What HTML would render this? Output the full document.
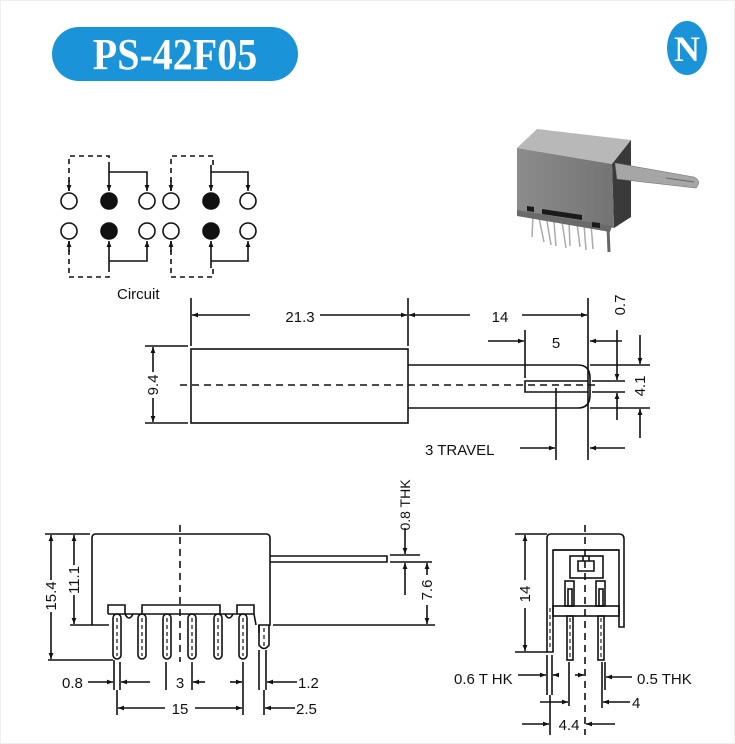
<!DOCTYPE html>
<html><head><meta charset="utf-8"><style>
body{margin:0;background:#fff}
svg{display:block}
text{font-family:"Liberation Sans",Arial,sans-serif;fill:#111}
</style></head><body>
<svg width="735" height="744" viewBox="0 0 735 744" xmlns="http://www.w3.org/2000/svg">
<defs>
<marker id="a" viewBox="0 0 10 10" refX="10" refY="5" markerWidth="8" markerHeight="6" orient="auto-start-reverse" markerUnits="userSpaceOnUse"><path d="M0,1 L10,5 L0,9z" fill="#111"/></marker>
<linearGradient id="g1" x1="0" x2="1"><stop offset="0" stop-color="#8c8c8c"/><stop offset="1" stop-color="#747474"/></linearGradient>
</defs>
<rect x="0.5" y="0.5" width="734" height="743" fill="#fff" stroke="#eee"/>
<!-- title -->
<rect x="52" y="27" width="246" height="54" rx="27" fill="#1a93d9"/>
<text transform="translate(175,69) scale(1,1.12)" text-anchor="middle" font-weight="bold" font-size="40" style="fill:#fff;font-family:'Liberation Serif',serif">PS-42F05</text>
<ellipse cx="687" cy="48" rx="20" ry="27" fill="#1a93d9"/>
<text x="687" y="61" text-anchor="middle" font-weight="bold" font-size="36" style="fill:#fff;font-family:'Liberation Serif',serif">N</text>

<g stroke="#111" stroke-width="1.6" fill="none">
<!-- circuit -->
<g fill="#fff">
<circle cx="69" cy="201" r="8"/><circle cx="147" cy="201" r="8"/><circle cx="171" cy="201" r="8"/><circle cx="248" cy="201" r="8"/>
<circle cx="69" cy="231" r="8"/><circle cx="147" cy="231" r="8"/><circle cx="171" cy="231" r="8"/><circle cx="248" cy="231" r="8"/>
</g>
<g fill="#111"><circle cx="109" cy="201" r="8"/><circle cx="109" cy="231" r="8"/><circle cx="211" cy="201" r="8"/><circle cx="211" cy="231" r="8"/></g>
<g stroke-dasharray="5,4">
<path d="M69,191 V156 H109 V165"/><path d="M69,241 V277 H109 V268"/>
<path d="M171,191 V156 H213 V165"/><path d="M171,241 V277 H213 V268"/>
</g>
<path d="M69,180 V191" marker-end="url(#a)"/><path d="M69,252 V241" marker-end="url(#a)"/>
<path d="M171,180 V191" marker-end="url(#a)"/><path d="M171,252 V241" marker-end="url(#a)"/>
<path d="M109,165 V191" marker-end="url(#a)"/><path d="M109,172 H147 V191" marker-end="url(#a)"/>
<path d="M109,268 V241" marker-end="url(#a)"/><path d="M109,261 H147 V241" marker-end="url(#a)"/>
<path d="M211,165 V191" marker-end="url(#a)"/><path d="M211,172 H248 V191" marker-end="url(#a)"/>
<path d="M211,268 V241" marker-end="url(#a)"/><path d="M211,261 H248 V241" marker-end="url(#a)"/>

<!-- side view -->
<rect x="191" y="349" width="217" height="74"/>
<path d="M408,365 H578 Q590,365 590,378 V395 Q590,408 578,408 H408"/>
<path d="M588,381 H525 V392 H588"/>
<path d="M180,385 H600" stroke-dasharray="7,5"/>
<path d="M191,298 V346 M408,298 V346 M588,298 V440 M525,330 V378"/>
<path d="M250,315 H192" marker-end="url(#a)"/><path d="M320,315 H407" marker-end="url(#a)"/>
<path d="M470,315 H409" marker-end="url(#a)"/><path d="M522,315 H587" marker-end="url(#a)"/>
<path d="M488,341 H524" marker-end="url(#a)"/><path d="M622,341 H590" marker-end="url(#a)"/>
<path d="M617,330 V380" marker-end="url(#a)"/><path d="M617,420 V393" marker-end="url(#a)"/>
<path d="M640,335 V364" marker-end="url(#a)"/><path d="M640,438 V409" marker-end="url(#a)"/>
<path d="M590,365 H650 M592,381 H625 M592,392 H625 M590,408 H650"/>
<path d="M145,346 H188 M145,423 H188"/>
<path d="M153,372 V347" marker-end="url(#a)"/><path d="M153,398 V422" marker-end="url(#a)"/>
<path d="M556,388 V460 M588,440 V460"/>
<path d="M520,448 H555" marker-end="url(#a)"/><path d="M625,448 H590" marker-end="url(#a)"/>

<!-- bottom left view -->
<path d="M109,625 H92 V538 Q92,534 96,534 H266 Q270,534 270,538 V625 H259 V633"/>
<path d="M270,556 H387 V562 H270"/>
<path d="M108,614 V605 H125 V614 M142,614 V605 H220 V614 M237,614 V605 H254 V614 M108,614 H254 L256,625"/>
<path d="M125,614 q4,8 8,0 M225,614 q4,8 8,0"/>
<g>
<rect x="113" y="614" width="8" height="45" rx="4"/><rect x="138" y="614" width="8" height="45" rx="4"/><rect x="163" y="614" width="8" height="45" rx="4"/>
<rect x="188" y="614" width="8" height="45" rx="4"/><rect x="214" y="614" width="8" height="45" rx="4"/><rect x="239" y="614" width="8" height="45" rx="4"/>
<path d="M259,625 V645 Q264,652 269,645 V625"/>
</g>
<g stroke-dasharray="4,3" stroke-width="1.2"><path d="M117,618 V656 M142,618 V656 M167,618 V656 M192,618 V656 M218,618 V656 M243,618 V656 M264,628 V646"/></g>
<path d="M180,525 V662" stroke-dasharray="7,5"/>
<path d="M45,534 H90 M70,625 H92 M48,660 H113"/>
<path d="M51,580 V535" marker-end="url(#a)"/><path d="M51,612 V659" marker-end="url(#a)"/>
<path d="M74,565 V535" marker-end="url(#a)"/><path d="M74,595 V624" marker-end="url(#a)"/>
<path d="M390,555 H420 M390,562 H432 M273,625 H435"/>
<path d="M405,528 V554" marker-end="url(#a)"/><path d="M405,595 V563" marker-end="url(#a)"/>
<path d="M427,575 V563" marker-end="url(#a)"/><path d="M427,605 V624" marker-end="url(#a)"/>
<path d="M114,660 V690 M120,662 V690 M166,662 V690 M192,662 V690 M243,662 V715 M117,690 V715 M259,650 V690 M266,650 V690 M264,690 V715"/>
<path d="M88,682 H113" marker-end="url(#a)"/><path d="M150,682 H121" marker-end="url(#a)"/>
<path d="M205,682 H193" marker-end="url(#a)"/><path d="M230,682 H242" marker-end="url(#a)"/>
<path d="M297,682 H267" marker-end="url(#a)"/>
<path d="M165,708 H118" marker-end="url(#a)"/><path d="M195,708 H242" marker-end="url(#a)"/>
<path d="M295,708 H265" marker-end="url(#a)"/>

<!-- bottom right view -->
<path d="M547,652 V538 Q547,534 551,534 H619 Q624,534 624,539 V627 H619 V550 H553 V652 Z"/>
<path d="M553,550 H619"/>
<rect x="553" y="606" width="66" height="10"/>
<rect x="570" y="556" width="33" height="22"/>
<path d="M578,561 H594 V571 H578 Z M583,556 V561 M589,556 V561"/>
<rect x="565" y="581" width="9" height="25"/><rect x="596" y="581" width="9" height="25"/>
<rect x="568" y="589" width="4" height="17"/><rect x="599" y="589" width="4" height="17"/>
<rect x="567" y="616" width="6" height="44"/><rect x="598" y="616" width="6" height="44"/>
<g stroke-dasharray="4,3" stroke-width="1.1"><path d="M550,608 V650 M570,618 V658 M601,618 V658"/></g>
<path d="M585,525 V735" stroke-dasharray="7,5"/>
<path d="M515,534 H547 M515,652 H547"/>
<path d="M525,580 V535" marker-end="url(#a)"/><path d="M525,608 V651" marker-end="url(#a)"/>
<path d="M547,655 V695 M552,655 V695 M569,662 V706 M602,662 V708 M605,662 V690 M550,695 V735"/>
<path d="M518,675 H546" marker-end="url(#a)"/><path d="M559,675 H553" marker-end="url(#a)"/>
<path d="M575,675 H584" marker-end="url(#a)"/>
<path d="M632,677 H606" marker-end="url(#a)"/>
<path d="M540,702 H568" marker-end="url(#a)"/>
<path d="M630,702 H603" marker-end="url(#a)"/>
<path d="M522,724 H549" marker-end="url(#a)"/><path d="M615,724 H586" marker-end="url(#a)"/>
</g>

<!-- photo -->
<g>
<g stroke="#aaa" stroke-width="1.5">
<path d="M533,215 L532,237 M539,218 L544,242 M546,215 L551,245 M554,222 L556,246 M561,215 L566,248 M569,222 L570,246 M576,215 L580,247 M584,224 L586,250 M591,224 L593,249"/>
</g>
<path d="M517,148 L537,129 L631,140 L612,164 Z" fill="#b8b8b8"/>
<path d="M612,164 L631,140 L631,217 L614,228 Z" fill="#3a3a3a"/>
<path d="M517,148 L612,164 L614,228 L517,212 Z" fill="url(#g1)"/>
<path d="M517,210 L612,226 L610,232 L517,216 Z" fill="#6a6a6a"/>
<path d="M527,206 L534,207 L534,212 L527,211 Z M542,209 L582,215 L582,220 L542,214 Z M592,222 L600,223 L600,228 L592,227 Z" fill="#1a1a1a"/>
<path d="M615,163 L694,177 Q702,181 696,188 L617,179 Z" fill="#a6a6a6" stroke="#777" stroke-width="0.6"/>
<path d="M666,178 L694,182" stroke="#666" stroke-width="1"/>
<path d="M608,228 L609,252" stroke="#666" stroke-width="3"/>
</g>

<!-- labels -->
<g font-size="15">
<text x="117" y="299">Circuit</text>
<text x="300" y="322" text-anchor="middle">21.3</text>
<text x="500" y="322" text-anchor="middle">14</text>
<text x="556" y="348" text-anchor="middle">5</text>
<text x="425" y="455">3 TRAVEL</text>
<text transform="translate(625,305) rotate(-90)" text-anchor="middle">0.7</text>
<text transform="translate(645,386) rotate(-90)" text-anchor="middle">4.1</text>
<text transform="translate(158,385) rotate(-90)" text-anchor="middle">9.4</text>
<text transform="translate(56,596) rotate(-90)" text-anchor="middle">15.4</text>
<text transform="translate(79,580) rotate(-90)" text-anchor="middle">11.1</text>
<text transform="translate(432,590) rotate(-90)" text-anchor="middle">7.6</text>
<text transform="translate(410,505) rotate(-90)" text-anchor="middle" font-size="14">0.8 THK</text>
<text x="62" y="688">0.8</text>
<text x="180" y="688" text-anchor="middle">3</text>
<text x="298" y="688">1.2</text>
<text x="180" y="714" text-anchor="middle">15</text>
<text x="296" y="714">2.5</text>
<text transform="translate(530,594) rotate(-90)" text-anchor="middle">14</text>
<text x="454" y="684">0.6 T HK</text>
<text x="637" y="684">0.5 THK</text>
<text x="632" y="708">4</text>
<text x="569" y="730" text-anchor="middle">4.4</text>
</g>
</svg>
</body></html>
